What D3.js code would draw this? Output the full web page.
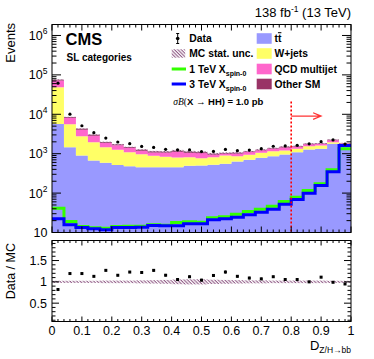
<!DOCTYPE html>
<html><head><meta charset="utf-8">
<script src="https://cdn.jsdelivr.net/npm/d3@7"></script>
<style>
body{margin:0;background:#fff}
svg{display:block}
text{font-family:"Liberation Sans",Arial,Helvetica,sans-serif;fill:#000}
</style>
</head><body>
<svg id="c" width="374" height="359"></svg>
<script>
// ---------- data ----------
const binEdges = [0.00,0.04,0.08,0.12,0.16,0.20,0.24,0.28,0.32,0.36,0.40,0.44,0.48,0.52,0.56,0.60,0.64,0.68,0.72,0.76,0.80,0.84,0.88,0.92,0.96,1.00];
const ttbar  = [5700,1460,900,670,590,520,480,455,455,455,455,495,500,525,555,635,700,787,865,955,1090,1280,1330,1780,1615];
const wjets  = [43000,4150,1880,1290,875,735,610,515,430,380,345,320,270,290,345,230,237,268,290,250,240,270,285,180,125];
const qcd    = [23400,2425,1285,910,400,375,295,225,195,230,325,245,265,135,107,150,160,160,180,240,175,185,160,240,80];
const otherSM= [3000,400,220,150,100,85,75,60,55,55,60,55,55,45,35,40,40,40,45,50,45,45,40,55,25];
const dataObs= [61600,10080,5120,3410,2495,1980,1796,1531,1441,1294,1250,1249,1134,1144,1282,1192,1239,1343,1546,1577,1635,1780,2015,2232,1753];
const sig1TeV= [41.4,19.0,14.2,13.2,12.8,14.2,14.4,14.4,15.7,15.3,17.9,18.7,18.3,23.6,25.0,29.1,34.1,39.0,46.5,61.2,78.7,116,172,390,1330];
const sig3TeV= [22.3,15.7,13.4,12.4,11.7,13.4,13.4,13.6,15.1,14.8,14.8,16.6,16.6,21.0,22.3,24.4,28.1,32.7,39.0,52.2,68.9,99.3,156,347,1614];
const mcRelUnc=[0.025,0.025,0.025,0.025,0.03,0.03,0.03,0.035,0.04,0.045,0.055,0.06,0.06,0.05,0.045,0.04,0.035,0.035,0.03,0.03,0.03,0.03,0.03,0.025,0.025];
const ratioErr=[0.01,0.02,0.02,0.02,0.025,0.025,0.025,0.03,0.03,0.03,0.03,0.03,0.03,0.03,0.035,0.03,0.03,0.03,0.025,0.025,0.025,0.025,0.025,0.02,0.02];
const xTickValues = [0,0.1,0.2,0.3,0.4,0.5,0.6,0.7,0.8,0.9,1];
const xTickLabels = ["0","0.1","0.2","0.3","0.4","0.5","0.6","0.7","0.8","0.9","1"];
const yExponents = [1,2,3,4,5,6];
const ratioTickValues = [0.5,1,1.5];
const ratioTickLabels = ["0.5","1","1.5"];
const cutValue = 0.8, arrowEnd = 0.9, arrowLevel = 9000, cutTop = 21000;

const colors = {ttbar:"#9999ff", wjets:"#ffff66", qcd:"#ff66cc", other:"#993366"};
const hatchCol = "#7a3a6e";

// ---------- layout ----------
const svg = d3.select("#c");
const L=52, R=351, T1=24.5, B1=232.5, T2=240.5, B2=321.5;
const x = d3.scaleLinear().domain([0,1]).range([L,R]);
const y = d3.scaleLog().domain([10,1.9e6]).range([B1,T1]);
const yr = d3.scaleLinear().domain([0.07,1.97]).range([B2,T2]);

const defs = svg.append("defs");
defs.append("clipPath").attr("id","clipTop").append("rect").attr("x",L).attr("y",T1).attr("width",R-L).attr("height",B1-T1);
defs.append("clipPath").attr("id","clipBot").append("rect").attr("x",L).attr("y",T2).attr("width",R-L).attr("height",B2-T2);
const pat = defs.append("pattern").attr("id","hatch").attr("patternUnits","userSpaceOnUse")
  .attr("width",2.4).attr("height",2.4).attr("patternTransform","rotate(45)");
pat.append("line").attr("x1",0).attr("y1",0.6).attr("x2",2.4).attr("y2",0.6).attr("stroke",hatchCol).attr("stroke-width",0.9);

// ---------- top panel ----------
const gTop = svg.append("g").attr("clip-path","url(#clipTop)");
const rows = ttbar.map((v,i)=>({lo:binEdges[i],hi:binEdges[i+1],ttbar:ttbar[i],wjets:wjets[i],qcd:qcd[i],other:otherSM[i]}));
const keys = ["ttbar","wjets","qcd","other"];
const series = d3.stack().keys(keys)(rows);
const area = d3.area().curve(d3.curveStepAfter)
  .x(d=>x(d.x)).y0(d=>d.y0>0?y(d.y0):B1+5).y1(d=>y(d.y1));
series.forEach(s=>{
  const pts = s.map((d,i)=>({x:rows[i].lo,y0:d[0],y1:d[1]}));
  const last = s[s.length-1];
  pts.push({x:1,y0:last[0],y1:last[1]});
  gTop.append("path").attr("d",area(pts)).attr("fill",colors[s.key]);
});
const totals = series[series.length-1].map(d=>d[1]);
// MC stat unc hatch
gTop.selectAll("rect.unc").data(totals).join("rect")
  .attr("x",(d,i)=>x(binEdges[i])).attr("width",(d,i)=>x(binEdges[i+1])-x(binEdges[i]))
  .attr("y",(d,i)=>y(d*(1+mcRelUnc[i]))).attr("height",(d,i)=>y(d*(1-mcRelUnc[i]))-y(d*(1+mcRelUnc[i])))
  .attr("fill","url(#hatch)");

// signals
const stepLine = d3.line().curve(d3.curveStepAfter).x(d=>x(d.x)).y(d=>y(d.v));
function sigPts(arr){const p=arr.map((v,i)=>({x:binEdges[i],v})); p.push({x:1,v:arr[arr.length-1]}); return p;}
gTop.append("path").attr("d",stepLine(sigPts(sig1TeV))).attr("fill","none").attr("stroke","#33ff00").attr("stroke-width",3);
gTop.append("path").attr("d",stepLine(sigPts(sig3TeV))).attr("fill","none").attr("stroke","#0000ff").attr("stroke-width",3);

// data points
gTop.selectAll("circle.d").data(dataObs).join("circle")
  .attr("cx",(d,i)=>x((binEdges[i]+binEdges[i+1])/2)).attr("cy",d=>y(d)).attr("r",1.6).attr("fill","#000");

// cut line + arrow
svg.append("line").attr("x1",x(cutValue)).attr("x2",x(cutValue)).attr("y1",y(cutTop)).attr("y2",B1)
  .attr("stroke","#ff0000").attr("stroke-width",1.6).attr("stroke-dasharray","2,2");
const ay = y(arrowLevel), ax2 = x(arrowEnd);
svg.append("path").attr("d",`M${x(cutValue)},${ay}H${ax2}M${ax2-8},${ay-3.3}L${ax2},${ay}L${ax2-8},${ay+3.3}`)
  .attr("fill","none").attr("stroke","#ff3333").attr("stroke-width",1.2);

// ---------- ratio panel ----------
const gBot = svg.append("g").attr("clip-path","url(#clipBot)");
gBot.selectAll("rect.u").data(mcRelUnc).join("rect")
  .attr("x",(d,i)=>x(binEdges[i])).attr("width",(d,i)=>x(binEdges[i+1])-x(binEdges[i]))
  .attr("y",d=>yr(1+d)).attr("height",d=>yr(1-d)-yr(1+d)).attr("fill","url(#hatch)");
const ratios = dataObs.map((d,i)=>d/totals[i]);
ratios.forEach((r,i)=>{
  const cx = x((binEdges[i]+binEdges[i+1])/2);
  gBot.append("line").attr("x1",cx).attr("x2",cx).attr("y1",yr(r-ratioErr[i])).attr("y2",yr(r+ratioErr[i])).attr("stroke","#000").attr("stroke-width",1);
  gBot.append("rect").attr("x",cx-1.5).attr("y",yr(r)-1.5).attr("width",3).attr("height",3).attr("fill","#000");
});

// ---------- frames & ticks ----------
function frame(t,b){svg.append("rect").attr("x",L).attr("y",t).attr("width",R-L).attr("height",b-t).attr("fill","none").attr("stroke","#000").attr("stroke-width",1);}
frame(T1,B1); frame(T2,B2);
const tk = svg.append("g").attr("stroke","#000").attr("stroke-width",1);
function hTick(xx,t,b,len){ tk.append("line").attr("x1",xx).attr("x2",xx).attr("y1",b).attr("y2",b-len);
  tk.append("line").attr("x1",xx).attr("x2",xx).attr("y1",t).attr("y2",t+len);}
function vTick(yy,len){ tk.append("line").attr("x1",L).attr("x2",L+len).attr("y1",yy).attr("y2",yy);
  tk.append("line").attr("x1",R).attr("x2",R-len).attr("y1",yy).attr("y2",yy);}
for(let k=0;k<=50;k++){
  const v=k/50, xx=x(v), major=(k%5===0);
  hTick(xx,T1,B1,major?6:3);
  hTick(xx,T2,B2,major?5:2.5);
}
yExponents.forEach(e=>{
  for(let m=1;m<=9;m++){
    const v=m*Math.pow(10,e); if(v>1.9e6) break;
    vTick(y(v), m===1?9:4.5);
  }
});
for(let k=1;k<=19;k++){ const v=k/10; vTick(yr(v), (k%5===0)?7:3.5); }

// ---------- labels ----------
const lab = svg.append("g").attr("font-size",12.5);
yExponents.forEach(e=>{
  const t = lab.append("text").attr("x",47.5).attr("y",y(Math.pow(10,e))+4.5).attr("text-anchor","end");
  t.append("tspan").text("10");
  if(e>1) t.append("tspan").attr("font-size",8.5).attr("dy",-5.5).text(e);
});
ratioTickValues.forEach((v,i)=>{
  lab.append("text").attr("x",47).attr("y",yr(v)+4.5).attr("text-anchor","end").text(ratioTickLabels[i]);
});
xTickValues.forEach((v,i)=>{
  lab.append("text").attr("x",x(v)).attr("y",334.5).attr("text-anchor","middle").text(xTickLabels[i]);
});
svg.append("text").attr("transform","translate(15,23) rotate(-90)").attr("text-anchor","end").attr("font-size",13).text("Events");
svg.append("text").attr("transform","translate(15,243) rotate(-90)").attr("text-anchor","end").attr("font-size",12.5).text("Data / MC");
const xt = svg.append("text").attr("x",351).attr("y",349.5).attr("text-anchor","end").attr("font-size",13);
xt.append("tspan").text("D");
xt.append("tspan").attr("font-size",8.5).attr("dy",3).text("Z/H\u2192bb");
const lt = svg.append("text").attr("x",351).attr("y",17).attr("text-anchor","end").attr("font-size",13);
lt.append("tspan").text("138 fb");
lt.append("tspan").attr("font-size",8.5).attr("dy",-5).text("-1");
lt.append("tspan").attr("dy",5).text(" (13 TeV)");
svg.append("text").attr("x",65.5).attr("y",45).attr("font-size",16.5).attr("font-weight","bold").text("CMS");
svg.append("text").attr("x",66.5).attr("y",60.5).attr("font-size",10).attr("font-weight","bold").text("SL categories");

// ---------- legend ----------
const lg = svg.append("g").attr("font-size",10.3).attr("font-weight","bold");
const rowY = [38.5,53.5,69,84];
lg.append("line").attr("x1",177.7).attr("x2",177.7).attr("y1",rowY[0]-5).attr("y2",rowY[0]+5).attr("stroke","#000").attr("stroke-width",1);
lg.append("line").attr("x1",176.2).attr("x2",179.2).attr("y1",rowY[0]-5).attr("y2",rowY[0]-5).attr("stroke","#000");
lg.append("line").attr("x1",176.2).attr("x2",179.2).attr("y1",rowY[0]+5).attr("y2",rowY[0]+5).attr("stroke","#000");
lg.append("circle").attr("cx",177.7).attr("cy",rowY[0]).attr("r",1.8).attr("fill","#000");
lg.append("text").attr("x",189.3).attr("y",rowY[0]+3.7).text("Data");
lg.append("rect").attr("x",171.7).attr("y",rowY[1]-4.2).attr("width",13.5).attr("height",8.4).attr("fill","url(#hatch)");
lg.append("text").attr("x",189.3).attr("y",rowY[1]+3.7).text("MC stat. unc.");
[[sig1TeV,"#33ff00","1 TeV X"],[sig3TeV,"#0000ff","3 TeV X"]].forEach((s,j)=>{
  const yy=rowY[2+j];
  lg.append("line").attr("x1",171.7).attr("x2",186).attr("y1",yy).attr("y2",yy).attr("stroke",s[1]).attr("stroke-width",3);
  const t=lg.append("text").attr("x",189.3).attr("y",yy+3.7);
  t.append("tspan").text(s[2]);
  t.append("tspan").attr("font-size",7).attr("dy",3).text("spin-0");
});
const sb = lg.append("text").attr("x",173.3).attr("y",104.7).attr("font-size",9.5);
sb.append("tspan").attr("font-family","'Liberation Serif','DejaVu Serif',serif").attr("font-style","italic").attr("font-weight","normal").text("\u03c3B");
sb.append("tspan").attr("font-family","'Liberation Serif','DejaVu Serif',serif").attr("font-weight","normal").text("(");
sb.append("tspan").text("X  \u2192 HH) = 1.0 pb");
const col2 = [["ttbar",null],["wjets","W+jets"],["qcd","QCD multijet"],["other","Other SM"]];
col2.forEach((c,j)=>{
  const yy=rowY[j];
  lg.append("rect").attr("x",256.7).attr("y",yy-5.3).attr("width",15).attr("height",10.6).attr("fill",colors[c[0]]);
  const t=lg.append("text").attr("x",274.5).attr("y",yy+3.7);
  if(c[1]) t.text(c[1]);
  else { t.append("tspan").text("t"); t.append("tspan").style("text-decoration","overline").text("t"); }
});
</script>
</body></html>
